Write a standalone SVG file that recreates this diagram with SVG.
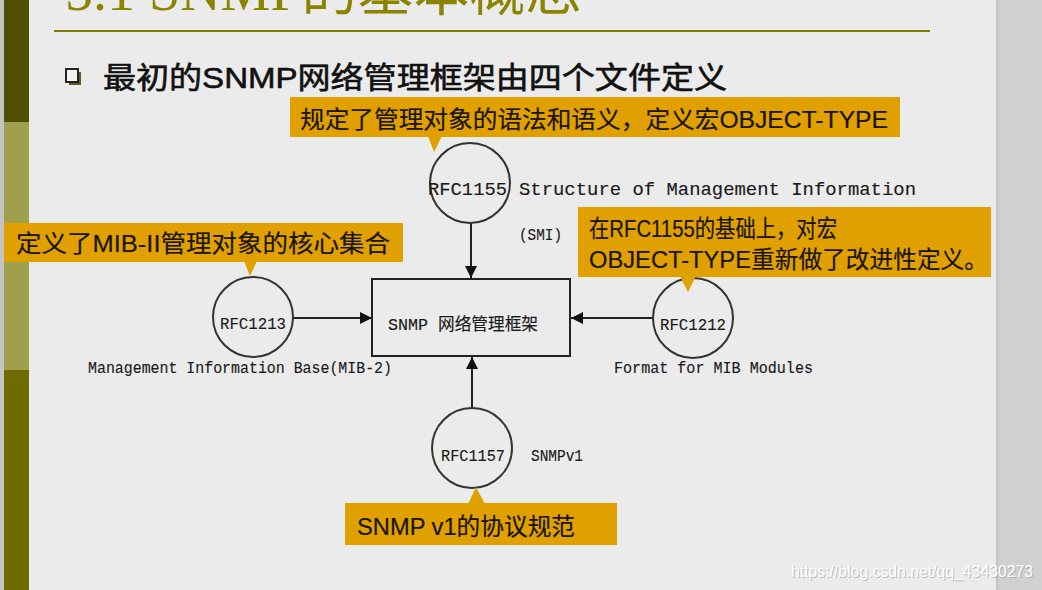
<svg xmlns="http://www.w3.org/2000/svg" width="1042" height="590" viewBox="0 0 1042 590">
<defs>
<style>
.callout{fill:#e0a100}
.ctext{font-family:"Liberation Sans","Noto Sans CJK SC",sans-serif;font-size:24px;fill:#1a1400;stroke:#1a1400;stroke-width:0.2}
.mono{font-family:"Liberation Mono","Noto Sans CJK SC",monospace;fill:#1a1a1a;stroke:#1a1a1a;stroke-width:0.15}
.circ{fill:none;stroke:#333;stroke-width:2}
.conn{stroke:#222;stroke-width:2;fill:none}
</style>
<marker id="arr" viewBox="0 0 12 12" refX="12" refY="6" markerWidth="12" markerHeight="12" markerUnits="userSpaceOnUse" orient="auto">
<path d="M0,0 L12,6 L0,12 z" fill="#111"/>
</marker>
</defs>
<rect x="0" y="0" width="1042" height="590" fill="#ebebeb"/>
<rect x="0" y="0" width="4" height="590" fill="#c4c4c4"/>
<rect x="4" y="0" width="25" height="122" fill="#4f4f00"/>
<rect x="4" y="122" width="25" height="248" fill="#a09f4e"/>
<rect x="4" y="370" width="25" height="220" fill="#6d6c00"/>
<rect x="997" y="0" width="45" height="590" fill="#d0d0d0"/>
<line x1="997" y1="0" x2="997" y2="590" stroke="#bdbdbd" stroke-width="1.5"/>
<text x="65" y="10" font-family="Liberation Serif,'Noto Sans CJK SC',serif" font-size="56" fill="#8a8400">5.1 SNMP的基本概念</text>
<line x1="54" y1="31" x2="930" y2="31" stroke="#857a00" stroke-width="2"/>
<rect x="69" y="72" width="12" height="13" fill="#5c5c20"/>
<rect x="66" y="69" width="12" height="13" fill="#f2f2f2" stroke="#222" stroke-width="2"/>
<text x="103" y="88" font-family="'Liberation Sans','Noto Sans CJK SC',sans-serif" font-size="30" fill="#111" stroke="#111" stroke-width="0.6" textLength="624" lengthAdjust="spacingAndGlyphs">最初的SNMP网络管理框架由四个文件定义</text>

<g id="connectors">
<line class="conn" x1="471" y1="223" x2="471" y2="278" marker-end="url(#arr)"/>
<line class="conn" x1="293" y1="318" x2="372" y2="318" marker-end="url(#arr)"/>
<line class="conn" x1="653" y1="318" x2="571" y2="318" marker-end="url(#arr)"/>
<line class="conn" x1="472" y1="408" x2="472" y2="357" marker-end="url(#arr)"/>
</g>

<g id="framework">
<rect x="372" y="279" width="198" height="77" fill="#ebebeb" stroke="#222" stroke-width="2"/>
<text class="mono" x="388" y="330" font-size="17" textLength="150" lengthAdjust="spacingAndGlyphs">SNMP 网络管理框架</text>
</g>

<g id="rfc1155">
<circle class="circ" cx="470" cy="183" r="40"/>
<text class="mono" x="428" y="195" font-size="18.5" textLength="79" lengthAdjust="spacingAndGlyphs">RFC1155</text>
<text class="mono" x="519" y="195" font-size="18.5" textLength="397" lengthAdjust="spacingAndGlyphs">Structure of Management Information</text>
<text class="mono" x="519" y="240" font-size="16" textLength="43" lengthAdjust="spacingAndGlyphs">(SMI)</text>
</g>

<g id="rfc1213">
<circle class="circ" cx="253" cy="317" r="40"/>
<text class="mono" x="220" y="329" font-size="17" textLength="66" lengthAdjust="spacingAndGlyphs">RFC1213</text>
<text class="mono" x="88" y="373" font-size="16" textLength="304" lengthAdjust="spacingAndGlyphs">Management Information Base(MIB-2)</text>
</g>

<g id="rfc1212">
<circle class="circ" cx="693" cy="318" r="40"/>
<text class="mono" x="660" y="330" font-size="17" textLength="66" lengthAdjust="spacingAndGlyphs">RFC1212</text>
<text class="mono" x="614" y="373" font-size="16" textLength="199" lengthAdjust="spacingAndGlyphs">Format for MIB Modules</text>
</g>

<g id="rfc1157">
<circle class="circ" cx="472" cy="448" r="40"/>
<text class="mono" x="441" y="461" font-size="17" textLength="64" lengthAdjust="spacingAndGlyphs">RFC1157</text>
<text class="mono" x="531" y="461" font-size="16" textLength="52" lengthAdjust="spacingAndGlyphs">SNMPv1</text>
</g>

<g id="callout-smi">
<rect class="callout" x="290" y="97" width="610" height="40"/>
<path class="callout" d="M428,136 L442,136 L434,152 z"/>
<text class="ctext" x="300" y="128" textLength="588" lengthAdjust="spacingAndGlyphs">规定了管理对象的语法和语义，定义宏OBJECT-TYPE</text>
</g>

<g id="callout-mib">
<rect class="callout" x="4" y="223" width="399" height="39"/>
<path class="callout" d="M244,261 L257,261 L250,276 z"/>
<text class="ctext" x="16" y="252" textLength="374" lengthAdjust="spacingAndGlyphs">定义了MIB-II管理对象的核心集合</text>
</g>

<g id="callout-format">
<rect class="callout" x="578" y="207" width="413" height="70"/>
<path class="callout" d="M680,276 L696,276 L688,292 z"/>
<text class="ctext" x="589" y="237" textLength="248" lengthAdjust="spacingAndGlyphs">在RFC1155的基础上，对宏</text>
<text class="ctext" x="589" y="268" textLength="399" lengthAdjust="spacingAndGlyphs">OBJECT-TYPE重新做了改进性定义。</text>
</g>

<g id="callout-v1">
<rect class="callout" x="345" y="503" width="272" height="42"/>
<path class="callout" d="M468,504 L485,504 L476,487 z"/>
<text class="ctext" x="357" y="535" textLength="218" lengthAdjust="spacingAndGlyphs">SNMP v1的协议规范</text>
</g>

<text x="791" y="577" font-family="'Liberation Sans',sans-serif" font-size="16" fill="#9a9a9a" opacity="0.6" textLength="242" lengthAdjust="spacingAndGlyphs" transform="translate(1,1)">https://blog.csdn.net/qq_43430273</text>
<text x="791" y="577" font-family="'Liberation Sans',sans-serif" font-size="16" fill="#ffffff" textLength="242" lengthAdjust="spacingAndGlyphs">https://blog.csdn.net/qq_43430273</text>
</svg>
